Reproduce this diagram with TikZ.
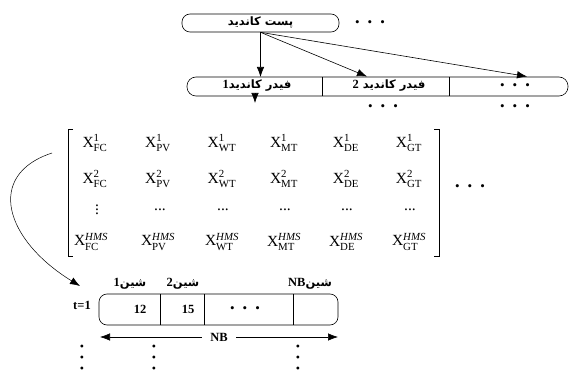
\documentclass[tikz,border=0pt]{standalone}
\usepackage{amsmath}
\usepackage{fontspec}
\setmainfont{Liberation Serif}
\newfontfamily\arabicfont[Script=Arabic,BoldFont={DejaVu Sans Bold}]{DejaVu Sans}
\TeXXeTstate=1
\usetikzlibrary{arrows.meta}
\newcommand\fa[1]{{\arabicfont\bfseries\beginR #1\endR}}
\newcommand\lat[1]{{\rmfamily\bfseries\fontsize{12.5}{14}\selectfont #1}}
\newcommand\hdt{\textbullet\hspace{8pt}\textbullet\hspace{8pt}\textbullet}
\newcommand\xe[2]{X$^{\textrm{#1}}_{\textrm{#2}}$}
\newcommand\xh[1]{X$^{\textit{HMS}}_{\textrm{#1}}$}
\tikzset{
  arr/.style={-{Latex[length=10pt,width=7.5pt]}, line width=0.6pt},
  dbl/.style={{Latex[length=10pt,width=7.5pt]}-{Latex[length=10pt,width=7.5pt]}, line width=0.6pt},
  rbox/.style={draw, line width=0.6pt, inner sep=0pt},
  fa/.style={inner sep=1pt, font=\fontsize{11.5}{13}\selectfont},
  lt/.style={inner sep=1pt, font=\fontsize{12.5}{14}\selectfont\bfseries},
  dots/.style={inner sep=0pt, font=\fontsize{13}{14}\selectfont},
  vdt/.style={inner sep=0pt, align=center, font=\fontsize{12}{11}\selectfont},
  me/.style={inner sep=0pt, font=\fontsize{15.5}{17}\selectfont},
  brk/.style={line width=0.6pt}
}
\begin{document}
\begin{tikzpicture}[x=1pt,y=-1pt]
\useasboundingbox (0,0) rectangle (572,374);
% top box
\node[rbox, rounded corners=8pt, minimum width=157pt, minimum height=18pt] (post) at (260.5,23) {};
\node[fa] (postt) at (260.5,22.5) {\fa{پست کاندید}};
\node[dots] (d0) at (370,24) {\hdt};
% feeder box
\node[rbox, rounded corners=9pt, minimum width=381pt, minimum height=19pt] (fbox) at (377.5,86.5) {};
\draw[line width=0.6pt] (322,77) -- (322,96);
\draw[line width=0.6pt] (449,77) -- (449,96);
\node[fa] (f1) at (257,86) {\fa{فیدر کاندید\lat{1}}};
\node[fa] (f2) at (389,86) {\fa{فیدر کاندید \lat{2}}};
\node[dots] (f3) at (515,87) {\hdt};
\node[dots] (d1) at (383,108) {\hdt};
\node[dots] (d2) at (515,108) {\hdt};
\coordinate (a1) at (260.5,77);
\coordinate (a2) at (367,76.5);
\coordinate (a3) at (527,76.5);
\draw[arr] (post.south) -- (a1);
\draw[arr] (post.south) -- (a2);
\draw[arr] (post.south) -- (a3);
\coordinate (s1) at (255,94);
\coordinate (s2) at (255,103);
\draw[arr] (s1) -- (s2);
% matrix
\draw[brk] (73,129) -- (68,129) -- (68,256) -- (73,256);
\draw[brk] (434,129) -- (439,129) -- (439,256) -- (434,256);
\node[me] (m11) at (95,143) {\xe{1}{FC}};
\node[me] (m12) at (158,143) {\xe{1}{PV}};
\node[me] (m13) at (222,143) {\xe{1}{WT}};
\node[me] (m14) at (284,143) {\xe{1}{MT}};
\node[me] (m15) at (346,143) {\xe{1}{DE}};
\node[me] (m16) at (409,143) {\xe{1}{GT}};
\node[me] (m21) at (95,179) {\xe{2}{FC}};
\node[me] (m22) at (158,179) {\xe{2}{PV}};
\node[me] (m23) at (222,179) {\xe{2}{WT}};
\node[me] (m24) at (284,179) {\xe{2}{MT}};
\node[me] (m25) at (346,179) {\xe{2}{DE}};
\node[me] (m26) at (409,179) {\xe{2}{GT}};
\node[me] (m31) at (97,207) {$\vdots$};
\node[me] (m32) at (160,210) {...};
\node[me] (m33) at (223,210) {...};
\node[me] (m34) at (285,210) {...};
\node[me] (m35) at (347,210) {...};
\node[me] (m36) at (410,210) {...};
\node[me] (m41) at (91,242) {\xh{FC}};
\node[me] (m42) at (158,242) {\xh{PV}};
\node[me] (m43) at (222,242) {\xh{WT}};
\node[me] (m44) at (284,242) {\xh{MT}};
\node[me] (m45) at (346,242) {\xh{DE}};
\node[me] (m46) at (409,242) {\xh{GT}};
\node[dots] (d3) at (470,188) {\hdt};
% curved arrow
\coordinate (c0) at (52,153);
\coordinate (c1) at (80,286);
\draw[arr, line width=0.5pt] (c0) .. controls (-15,175) and (5,240) .. (c1);
% bottom box
\node[rbox, rounded corners=8pt, minimum width=239pt, minimum height=31pt] (bbox) at (218.5,309.5) {};
\draw[line width=0.6pt] (160,294) -- (160,325);
\draw[line width=0.6pt] (204,294) -- (204,325);
\draw[line width=0.6pt] (293,294) -- (293,325);
\node[fa] (b1) at (130,284) {\fa{شین\lat{1}}};
\node[fa] (b2) at (183,284) {\fa{شین\lat{2}}};
\node[fa] (b3) at (310,284) {\fa{شین\beginL\lat{NB}\endL}};
\node[lt] (t1) at (82,305) {t=1};
\node[lt] (v1) at (140,309.5) {12};
\node[lt] (v2) at (188,309.5) {15};
\node[dots] (v3) at (245,310) {\hdt};
\coordinate (nbL) at (100,337);
\coordinate (nbR) at (338,337);
\draw[dbl] (nbL) -- node[lt, fill=white, inner xsep=8pt] (nb) {NB} (nbR);
\node[vdt] (e1) at (82,359) {\textbullet\\\textbullet\\\textbullet};
\node[vdt] (e2) at (154,359) {\textbullet\\\textbullet\\\textbullet};
\node[vdt] (e3) at (298,359) {\textbullet\\\textbullet\\\textbullet};
\end{tikzpicture}
\end{document}
